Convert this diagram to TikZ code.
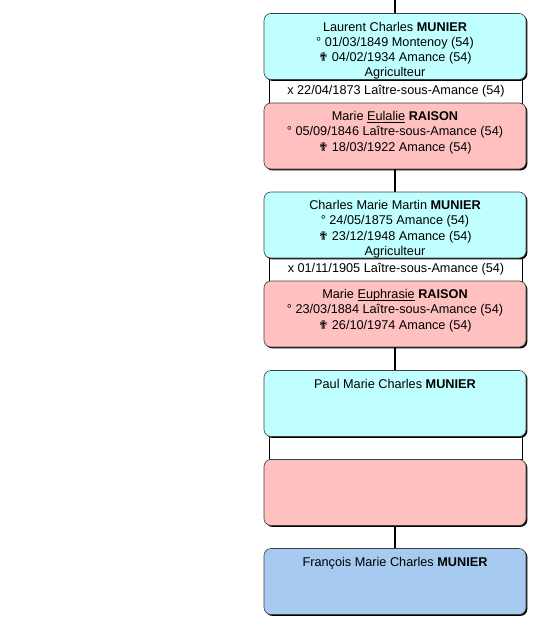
\documentclass[tikz,border=0pt]{standalone}
\usepackage{fontspec}
\setmainfont{Liberation Sans}
\newfontfamily\crossfont{DejaVu Sans}
\usetikzlibrary{positioning,shadows}
\definecolor{homme}{HTML}{C0FFFF}
\definecolor{femme}{HTML}{FFC0C0}
\definecolor{enfant}{HTML}{A6CAF0}
\newcommand{\deces}{{\crossfont\fontsize{12}{15}\selectfont ✟}}
\newcommand{\souligne}[1]{\setbox0\hbox{#1}\rlap{\rule[-1.7pt]{\wd0}{0.7pt}}\box0\relax}
\tikzset{
  fiche/.style={draw=black!75, line width=0.6pt, rounded corners=7pt,
    minimum width=262pt, minimum height=66pt, inner sep=0pt,
    drop shadow={shadow xshift=1.4pt, shadow yshift=-1.4pt, fill=black, opacity=1}},
  union/.style={draw=black, fill=white, line width=1.6pt,
    minimum width=253pt, minimum height=24pt, inner sep=0pt},
  texte/.style={align=center, inner sep=0pt, font=\fontsize{12.7}{15.2}\selectfont},
  lien/.style={line width=1.6pt}
}
\begin{document}
\begin{tikzpicture}[x=1pt,y=-1pt]
  \useasboundingbox[fill=white] (0,0) rectangle (534,642);
  % mariages
  \node[union, texte] (u1) at (396,91.5) {x 22/04/1873 Laître-sous-Amance (54)};
  \node[union, texte] (u2) at (396,269.5) {x 01/11/1905 Laître-sous-Amance (54)};
  \node[union] (u3) at (396,448) {};
  % fiches
  \node[fiche, fill=homme] (m1) at (395,46.5) {};
  \node[fiche, fill=femme] (f1) at (395,136) {};
  \node[fiche, fill=homme] (m2) at (395,225) {};
  \node[fiche, fill=femme] (f2) at (395,314) {};
  \node[fiche, fill=homme] (m3) at (395,403.5) {};
  \node[fiche, fill=femme] (f3) at (395,492.5) {};
  \node[fiche, fill=enfant] (e) at (395,581.5) {};
  \node[texte, below=8.5pt of m1.north] {Laurent Charles \textbf{MUNIER}\\
    ° 01/03/1849 Montenoy (54)\\ \deces{} 04/02/1934 Amance (54)\\ Agriculteur};
  \node[texte, below=8.5pt of f1.north] {Marie \souligne{Eulalie} \textbf{RAISON}\\
    ° 05/09/1846 Laître-sous-Amance (54)\\ \deces{} 18/03/1922 Amance (54)};
  \node[texte, below=8.5pt of m2.north] {Charles Marie Martin \textbf{MUNIER}\\
    ° 24/05/1875 Amance (54)\\ \deces{} 23/12/1948 Amance (54)\\ Agriculteur};
  \node[texte, below=8.5pt of f2.north] {Marie \souligne{Euphrasie} \textbf{RAISON}\\
    ° 23/03/1884 Laître-sous-Amance (54)\\ \deces{} 26/10/1974 Amance (54)};
  \node[texte, below=8.5pt of m3.north] {Paul Marie Charles \textbf{MUNIER}};
  \node[texte, below=8.5pt of e.north] {François Marie Charles \textbf{MUNIER}};
  % filiation
  \coordinate (haut) at (395,0);
  \draw[lien] (haut) -- (m1.north);
  \draw[lien] (f1.south) -- (m2.north);
  \draw[lien] (f2.south) -- (m3.north);
  \draw[lien] (f3.south) -- (e.north);
\end{tikzpicture}
\end{document}
